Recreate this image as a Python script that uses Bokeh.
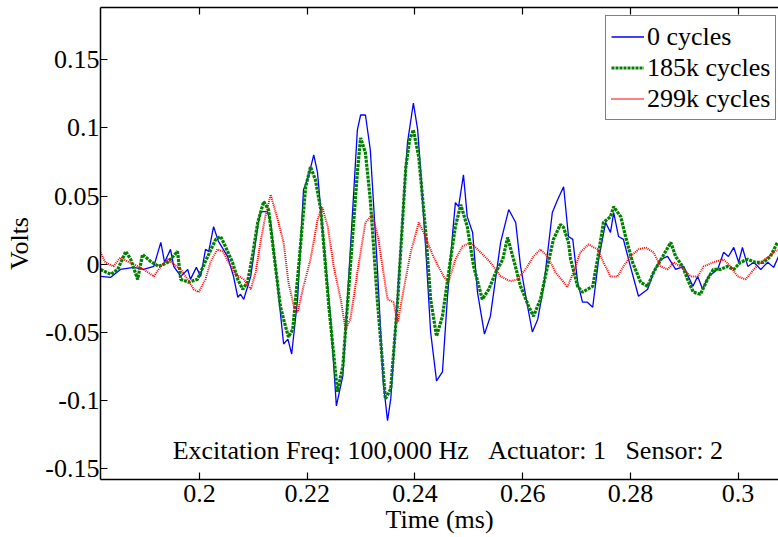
from bokeh.plotting import figure
from bokeh.models import (Range1d, FixedTicker, LinearAxis, Legend, LegendItem, Label,
                          CustomJSTickFormatter)
from bokeh.embed import file_html
from bokeh.resources import INLINE

# ---- data (time in ms, volts) ----
t_0k = [0.1816, 0.1835, 0.1853, 0.1878, 0.1896, 0.1915, 0.1928, 0.1935, 0.1946, 0.1952,
        0.1965, 0.1978, 0.1983, 0.1994, 0.2002, 0.2011, 0.2017, 0.2026, 0.2035, 0.2052,
        0.2063, 0.2071, 0.2076, 0.2082, 0.2095, 0.2108, 0.2113, 0.2126, 0.2132, 0.2145,
        0.2156, 0.2164, 0.2171, 0.2182, 0.2193, 0.2202, 0.2212, 0.2219, 0.2225, 0.2243,
        0.2254, 0.2266, 0.2280, 0.2293, 0.2299, 0.2308, 0.2317, 0.2330, 0.2341, 0.2349,
        0.2355, 0.2368, 0.2386, 0.2397, 0.2405, 0.2410, 0.2420, 0.2429, 0.2440, 0.2451,
        0.2460, 0.2470, 0.2475, 0.2481, 0.2490, 0.2497, 0.2507, 0.2516, 0.2529, 0.2540,
        0.2559, 0.2574, 0.2587, 0.2596, 0.2609, 0.2618, 0.2628, 0.2639, 0.2655, 0.2665,
        0.2676, 0.2685, 0.2693, 0.2702, 0.2711, 0.2720, 0.2730, 0.2741, 0.2754, 0.2763,
        0.2769, 0.2778, 0.2787, 0.2800, 0.2815, 0.2832, 0.2843, 0.2856, 0.2869, 0.2884,
        0.2899, 0.2916, 0.2925, 0.2934, 0.2945, 0.2962, 0.2973, 0.2982, 0.2992, 0.3001,
        0.3008, 0.3018, 0.3029, 0.3042, 0.3055, 0.3066, 0.3075]
v_0k = [-0.0088, -0.0095, -0.0037, -0.0022, -0.0037, -0.0015, 0.0161, 0.0015, 0.0110, -0.0015,
        -0.0088, -0.0037, -0.0110, -0.0022, -0.0088, 0.0110, 0.0095, 0.0277, 0.0168, 0.0058,
        -0.0088, -0.0241, -0.0219, -0.0256, -0.0088, 0.0277, 0.0387, 0.0387, 0.0307, -0.0161,
        -0.0584, -0.0548, -0.0657, -0.0256, 0.0548, 0.0642, 0.0803, 0.0672, 0.0402, -0.0380,
        -0.1037, -0.0818, 0.0110, 0.0986, 0.1095, 0.1095, 0.0840, -0.0015, -0.0861, -0.1146,
        -0.0986, -0.0204, 0.0891, 0.1183, 0.0986, 0.0715, 0.0110, -0.0496, -0.0854, -0.0788,
        -0.0256, 0.0234, 0.0453, 0.0423, 0.0657, 0.0350, 0.0234, -0.0204, -0.0511, -0.0380,
        0.0161, 0.0402, 0.0307, -0.0015, -0.0307, -0.0496, -0.0402, -0.0161, 0.0380, 0.0475,
        0.0569, 0.0204, 0.0183, -0.0131, -0.0277, -0.0277, -0.0314, 0.0037, 0.0307, 0.0234,
        0.0380, 0.0204, 0.0183, -0.0015, -0.0234, -0.0183, -0.0058, 0.0037, 0.0058, -0.0037,
        -0.0015, -0.0161, -0.0088, -0.0183, -0.0088, -0.0037, 0.0088, 0.0058, 0.0124, 0.0015,
        0.0124, -0.0015, 0.0015, -0.0037, 0.0015, -0.0022, 0.0058]

t_185k = [0.1816, 0.1835, 0.1848, 0.1863, 0.1872, 0.1885, 0.1894, 0.1909, 0.1924, 0.1941,
          0.1959, 0.1965, 0.1980, 0.1996, 0.2015, 0.2030, 0.2039, 0.2048, 0.2061, 0.2071,
          0.2080, 0.2089, 0.2098, 0.2108, 0.2119, 0.2128, 0.2137, 0.2150, 0.2156, 0.2165,
          0.2173, 0.2184, 0.2197, 0.2206, 0.2215, 0.2225, 0.2240, 0.2256, 0.2266, 0.2280,
          0.2293, 0.2299, 0.2308, 0.2317, 0.2330, 0.2345, 0.2355, 0.2368, 0.2383, 0.2390,
          0.2397, 0.2407, 0.2420, 0.2429, 0.2440, 0.2451, 0.2466, 0.2475, 0.2485, 0.2497,
          0.2509, 0.2525, 0.2537, 0.2550, 0.2563, 0.2572, 0.2583, 0.2596, 0.2611, 0.2620,
          0.2633, 0.2646, 0.2657, 0.2670, 0.2676, 0.2685, 0.2689, 0.2702, 0.2711, 0.2720,
          0.2730, 0.2739, 0.2750, 0.2763, 0.2769, 0.2782, 0.2791, 0.2804, 0.2819, 0.2832,
          0.2843, 0.2860, 0.2875, 0.2884, 0.2897, 0.2906, 0.2917, 0.2930, 0.2943, 0.2954,
          0.2967, 0.2980, 0.2992, 0.3004, 0.3018, 0.3032, 0.3047, 0.3060, 0.3073]
v_185k = [-0.0037, -0.0073, -0.0037, 0.0095, 0.0037, -0.0110, 0.0073, 0.0022, -0.0015, 0.0015,
          0.0095, -0.0110, -0.0131, -0.0110, 0.0058, 0.0183, 0.0204, 0.0131, 0.0015, -0.0110,
          -0.0183, -0.0131, 0.0058, 0.0307, 0.0460, 0.0402, 0.0110, -0.0307, -0.0402, -0.0533,
          -0.0475, -0.0015, 0.0569, 0.0715, 0.0621, 0.0402, -0.0307, -0.0934, -0.0745, -0.0015,
          0.0672, 0.0927, 0.0818, 0.0475, -0.0256, -0.0986, -0.0913, -0.0256, 0.0715, 0.0913,
          0.0986, 0.0788, 0.0234, -0.0256, -0.0526, -0.0380, 0.0037, 0.0277, 0.0438, 0.0277,
          -0.0015, -0.0256, -0.0183, -0.0058, 0.0037, 0.0197, 0.0037, -0.0161, -0.0307, -0.0380,
          -0.0256, -0.0015, 0.0183, 0.0292, 0.0270, 0.0161, 0.0037, -0.0161, -0.0204, -0.0183,
          -0.0161, 0.0037, 0.0307, 0.0350, 0.0423, 0.0350, 0.0204, 0.0015, -0.0131, -0.0161,
          -0.0058, 0.0058, 0.0161, 0.0058, -0.0015, -0.0110, -0.0204, -0.0219, -0.0110, -0.0037,
          -0.0037, -0.0015, -0.0037, 0.0015, 0.0037, 0.0015, 0.0015, 0.0058, 0.0161]

t_299k = [0.1816, 0.1825, 0.1840, 0.1853, 0.1866, 0.1878, 0.1896, 0.1915, 0.1928, 0.1941,
          0.1952, 0.1965, 0.1978, 0.1989, 0.1998, 0.2011, 0.2020, 0.2033, 0.2043, 0.2054,
          0.2067, 0.2082, 0.2095, 0.2104, 0.2113, 0.2122, 0.2132, 0.2145, 0.2156, 0.2165,
          0.2175, 0.2182, 0.2193, 0.2206, 0.2219, 0.2228, 0.2238, 0.2249, 0.2262, 0.2271,
          0.2280, 0.2293, 0.2308, 0.2321, 0.2332, 0.2349, 0.2360, 0.2368, 0.2379, 0.2392,
          0.2407, 0.2416, 0.2434, 0.2453, 0.2462, 0.2475, 0.2488, 0.2503, 0.2522, 0.2540,
          0.2559, 0.2577, 0.2590, 0.2605, 0.2620, 0.2633, 0.2646, 0.2661, 0.2676, 0.2683,
          0.2694, 0.2707, 0.2722, 0.2739, 0.2750, 0.2763, 0.2776, 0.2787, 0.2800, 0.2815,
          0.2828, 0.2843, 0.2856, 0.2869, 0.2880, 0.2893, 0.2912, 0.2925, 0.2936, 0.2954,
          0.2973, 0.2986, 0.2999, 0.3014, 0.3029, 0.3042, 0.3057, 0.3073]
v_299k = [0.0088, 0.0015, -0.0015, 0.0051, 0.0022, 0.0000, -0.0037, -0.0088, -0.0015, 0.0037,
          0.0000, -0.0037, -0.0110, -0.0183, -0.0204, -0.0110, 0.0015, 0.0110, 0.0095, 0.0015,
          -0.0073, -0.0110, -0.0183, -0.0058, 0.0161, 0.0350, 0.0511, 0.0329, 0.0161, -0.0131,
          -0.0307, -0.0350, -0.0161, 0.0037, 0.0329, 0.0416, 0.0277, -0.0015, -0.0256, -0.0475,
          -0.0402, -0.0058, 0.0307, 0.0365, 0.0183, -0.0256, -0.0277, -0.0423, -0.0183, 0.0088,
          0.0307, 0.0234, 0.0058, -0.0088, -0.0131, 0.0037, 0.0131, 0.0161, 0.0088, 0.0015,
          -0.0088, -0.0124, -0.0110, -0.0037, 0.0058, 0.0110, 0.0058, -0.0058, -0.0131, -0.0168,
          -0.0058, 0.0088, 0.0146, 0.0110, 0.0015, -0.0088, -0.0088, -0.0015, 0.0058, 0.0110,
          0.0124, 0.0088, -0.0015, -0.0037, 0.0015, -0.0015, -0.0088, -0.0088, -0.0015, 0.0015,
          0.0037, -0.0015, -0.0088, -0.0110, -0.0037, 0.0015, 0.0058, 0.0110]

series_names = ["0 cycles", "185k cycles", "299k cycles"]
x_ticks = [0.2, 0.22, 0.24, 0.26, 0.28, 0.3]
x_tick_labels = ["0.2", "0.22", "0.24", "0.26", "0.28", "0.3"]
y_ticks = [-0.15, -0.1, -0.05, 0.0, 0.05, 0.1, 0.15]
y_tick_labels = ["-0.15", "-0.1", "-0.05", "0", "0.05", "0.1", "0.15"]
annotation = "Excitation Freq: 100,000 Hz\u00a0\u00a0\u00a0Actuator: 1\u00a0\u00a0\u00a0Sensor: 2"

FONT = "Liberation Serif"
FS = "26px"

p = figure(width=778, height=536, output_backend="svg", toolbar_location=None,
           x_range=Range1d(0.1816, 0.3075), y_range=Range1d(-0.1577, 0.1883),
           min_border_left=100, min_border_right=0, min_border_top=7, min_border_bottom=55)
p.outline_line_color = None
p.grid.visible = False
p.background_fill_color = "white"
p.border_fill_color = "white"

def style_axis(ax, ticks, labels):
    ax.ticker = FixedTicker(ticks=ticks)
    ax.major_label_overrides = {t: l for t, l in zip(ticks, labels)}
    ax.major_tick_in = 7
    ax.major_tick_out = 0
    ax.minor_tick_line_color = None
    ax.axis_line_color = "black"
    ax.axis_line_width = 1.5
    ax.major_tick_line_color = "black"
    ax.major_tick_line_width = 1.2
    ax.major_label_text_font = FONT
    ax.major_label_text_font_size = FS
    ax.major_label_text_color = "black"
    ax.axis_label_text_font = FONT
    ax.axis_label_text_font_size = FS
    ax.axis_label_text_font_style = "normal"
    ax.axis_label_text_color = "black"

style_axis(p.xaxis[0], x_ticks, x_tick_labels)
style_axis(p.yaxis[0], y_ticks, y_tick_labels)
p.xaxis[0].axis_label = "Time (ms)"
p.xaxis[0].major_label_standoff = 5
p.xaxis[0].axis_label_standoff = 0
p.yaxis[0].axis_label = "Volts"
p.yaxis[0].major_label_standoff = 1
p.yaxis[0].axis_label_standoff = 8

# mirrored top edge with inward ticks, no labels
top = LinearAxis(ticker=FixedTicker(ticks=x_ticks),
                 formatter=CustomJSTickFormatter(code="return ''"))
top.major_tick_in = 7
top.major_tick_out = 0
top.minor_tick_line_color = None
top.axis_line_color = "black"
top.axis_line_width = 1.5
top.major_tick_line_color = "black"
top.major_tick_line_width = 1.2
top.major_label_standoff = 0
p.add_layout(top, "above")

r0 = p.line(t_0k, v_0k, line_color="#0000ff", line_width=1.3)
r1 = p.line(t_185k, v_185k, line_color="#008000", line_width=3.2, line_dash="3 1")
r2 = p.line(t_299k, v_299k, line_color="#ff0000", line_width=2, line_dash="1 1")

legend = Legend(items=[LegendItem(label=series_names[0], renderers=[r0]),
                       LegendItem(label=series_names[1], renderers=[r1]),
                       LegendItem(label=series_names[2], renderers=[r2])],
                location=(505, 359))
legend.label_text_font = FONT
legend.label_text_font_size = FS
legend.label_text_color = "black"
legend.glyph_width = 33
legend.glyph_height = 31
legend.label_height = 31
legend.label_standoff = 3
legend.spacing = 0
legend.padding = 5
legend.margin = 0
legend.border_line_color = "black"
legend.border_line_width = 1.5
legend.background_fill_color = "white"
legend.background_fill_alpha = 1.0
p.add_layout(legend, "center")

p.add_layout(Label(x=0.1950, y=-0.1365, text=annotation, text_font=FONT,
                   text_font_size=FS, text_color="black", text_baseline="alphabetic"))

open("out.html", "w").write(file_html(p, INLINE))
